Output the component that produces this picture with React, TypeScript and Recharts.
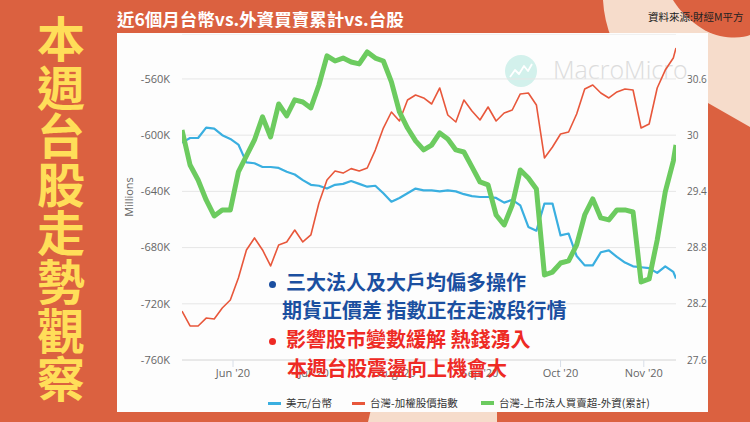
import React from "react"
import { LineChart, Line, XAxis, YAxis, CartesianGrid, Legend } from "recharts"

// day offsets counted from 1 May 2020 (one reading every ~3 days)
const days = [
  12, 15, 18, 21, 24, 27, 30, 33, 36, 39, 42, 45, 48, 51, 54, 57, 60, 63, 66, 69, 72,
  75, 78, 81, 84, 87, 90, 93, 96, 99, 102, 105, 108, 111, 114, 117, 120, 123, 126,
  129, 132, 135, 138, 141, 144, 147, 150, 153, 156, 159, 162, 165, 168, 171, 174,
  177, 180, 183, 186, 189, 192, 195, 196,
]

// 美元/台幣
const usdTwd = [
  29.92, 29.97, 29.97, 30.08, 30.07, 30.0, 29.96, 29.9, 29.71, 29.7, 29.66, 29.66,
  29.65, 29.61, 29.58, 29.52, 29.47, 29.46, 29.43, 29.47, 29.48, 29.51, 29.48, 29.45,
  29.46, 29.38, 29.29, 29.33, 29.38, 29.43, 29.41, 29.41, 29.4, 29.41, 29.4, 29.37,
  29.35, 29.34, 29.34, 29.33, 29.28, 29.31, 29.25, 29.02, 28.98, 29.27, 29.27, 28.93,
  28.95, 28.71, 28.61, 28.61, 28.75, 28.77, 28.7, 28.64, 28.6, 28.59, 28.58, 28.53,
  28.6, 28.54, 28.47,
]

// 台灣-加權股價指數
const taiex = [
  10870, 10736, 10736, 10807, 10799, 10897, 10969, 11167, 11419, 11527, 11419, 11275,
  11464, 11491, 11598, 11491, 11554, 11841, 12048, 12129, 12110, 12150, 12129, 12156,
  12317, 12515, 12659, 12578, 12767, 12812, 12785, 12731, 12875, 12632, 12569, 12767,
  12668, 12587, 12704, 12578, 12650, 12677, 12821, 12830, 12722, 12246, 12344, 12461,
  12479, 12641, 12866, 12902, 12830, 12785, 12839, 12866, 12857, 12515, 12551, 12875,
  13036, 13144, 13234,
]

// 台灣-上市法人買賣超-外資(累計), millions (K)
const foreignCum = [
  -596.3, -621.2, -631.9, -646.1, -657.5, -653.2, -653.2, -626.2, -614.8, -603.4,
  -587.0, -601.3, -577.8, -586.3, -574.9, -576.4, -580.6, -564.3, -543.6, -547.2,
  -545.1, -547.9, -549.3, -540.8, -545.1, -547.2, -562.1, -583.5, -594.9, -604.1,
  -610.5, -607.0, -598.4, -602.7, -610.5, -612.0, -622.6, -633.3, -635.4, -656.8,
  -663.9, -649.7, -624.8, -630.5, -638.3, -699.5, -697.4, -691.0, -689.5, -678.1,
  -656.8, -645.4, -658.9, -660.3, -653.2, -653.2, -654.7, -704.5, -702.3, -674.6,
  -640.4, -618.4, -607.0,
]

const monthTicks = [31, 61, 92, 123, 153, 184]
const monthLabels = ["Jun '20", "Jul '20", "Aug '20", "Sep '20", "Oct '20", "Nov '20"]
const leftTicks = [-760, -720, -680, -640, -600, -560]
const rightTicks = [27.6, 28.2, 28.8, 29.4, 30, 30.6]

const seriesNames = ["美元/台幣", "台灣-加權股價指數", "台灣-上市法人買賣超-外資(累計)"]
const seriesColors = ["#3AAFE0", "#E8573B", "#6CCB5F"]

const data = days.map((t, i) => ({
  t,
  usd: usdTwd[i],
  taiex: taiex[i],
  foreign: foreignCum[i],
}))

const CJK = '"Noto Sans CJK TC", "Noto Sans", sans-serif'
const AXIS_FONT = '"Open Sans", "Noto Sans CJK TC", sans-serif'
const ORANGE = "#DB6140"
const PEACH = "#F6DCCB"

const legendLefts = [151, 235, 364]

function renderLegend() {
  return (
    <div style={{ position: "relative", width: 591, height: 14, fontFamily: CJK, fontSize: 10.5, color: "#333" }}>
      {seriesNames.map((name, i) => (
        <div key={name} style={{ position: "absolute", left: legendLefts[i], top: 0, height: 14, whiteSpace: "nowrap" }}>
          <div
            style={{
              position: "absolute",
              left: 0,
              top: i === 2 ? 5 : 6,
              width: 13,
              height: i === 2 ? 4 : 3,
              background: seriesColors[i],
            }}
          />
          <span style={{ position: "absolute", left: 18, top: 0, lineHeight: "14px" }}>{name}</span>
        </div>
      ))}
    </div>
  )
}

const titleChars = "本週台股走勢觀察".split("")

export default function App() {
  return (
    <div
      style={{
        position: "fixed",
        left: 0,
        top: 0,
        width: 750,
        height: 422,
        overflow: "hidden",
        background: ORANGE,
        fontFamily: CJK,
      }}
    >
      {/* background shapes */}
      <svg width={750} height={422} style={{ position: "absolute", left: 0, top: 0 }}>
        <path d="M603,0 L750,0 L750,127 L708,103 L708,40 L612,40 Q604,20 603,0 Z" fill={PEACH} />
        <path d="M673,0 C680,12 700,32 720,36 C735,39 745,37 750,35 L750,0 Z" fill={ORANGE} />
        <path d="M372,405 L497,405 L497,422 L368,422 Z" fill={PEACH} />
      </svg>

      {/* vertical heading */}
      <div style={{ position: "absolute", left: 37, top: 12, width: 46 }}>
        {titleChars.map((c, i) => (
          <div
            key={i}
            style={{
              height: 48.6,
              lineHeight: "48.6px",
              fontSize: 48,
              fontWeight: 700,
              color: "#FFDE59",
              textAlign: "center",
            }}
          >
            {c}
          </div>
        ))}
      </div>

      <div
        style={{
          position: "absolute",
          left: 117,
          top: 10,
          fontSize: 17.5,
          lineHeight: "17.5px",
          fontWeight: 700,
          color: "#fff",
          whiteSpace: "nowrap",
        }}
      >
        近6個月台幣vs.外資買賣累計vs.台股
      </div>
      <div
        style={{
          position: "absolute",
          left: 648,
          top: 12,
          fontSize: 10.5,
          lineHeight: "10.5px",
          color: "#222",
          whiteSpace: "nowrap",
        }}
      >
        資料來源:財經M平方
      </div>

      {/* chart panel */}
      <div style={{ position: "absolute", left: 117, top: 33, width: 591, height: 379, background: "#FDFDFD" }} />

      {/* watermark */}
      <svg width={750} height={422} style={{ position: "absolute", left: 0, top: 0 }}>
        <circle cx={521} cy={71} r={16} fill="#D3F1EC" />
        <polyline
          points="510,77 515,70 519,74 524,66 528,71 532,64"
          fill="none"
          stroke="#fff"
          strokeWidth={1.8}
          strokeLinejoin="round"
        />
        <text x={553} y={79} fontFamily={AXIS_FONT} fontWeight={300} fontSize={25} fill="#DCDCDC">
          MacroMicro
        </text>
      </svg>

      <div style={{ position: "absolute", left: 117, top: 34 }}>
        <LineChart width={591} height={378} data={data} margin={{ top: 0, right: 0, bottom: 22, left: 0 }}>
          <CartesianGrid yAxisId="left" vertical={false} stroke="#E6E6E6" />
          <XAxis
            dataKey="t"
            type="number"
            domain={[12, 196]}
            allowDataOverflow
            ticks={monthTicks}
            tickFormatter={(v: number) => monthLabels[monthTicks.indexOf(v)] || ""}
            height={30}
            tickSize={7}
            tick={{ fill: "#666", fontSize: 11, fontFamily: AXIS_FONT }}
            tickLine={{ stroke: "#D8DEE8" }}
            axisLine={{ stroke: "#E0E0E0" }}
          />
          <YAxis
            yAxisId="left"
            width={65}
            domain={[-760, -528]}
            allowDataOverflow
            ticks={leftTicks}
            tickFormatter={(v: number) => `${v}K`}
            tickLine={false}
            axisLine={false}
            tickMargin={6}
            tick={{ fill: "#666", fontSize: 11, fontFamily: AXIS_FONT }}
            label={{
              value: "Millions",
              angle: -90,
              position: "insideLeft",
              offset: 12,
              style: { textAnchor: "middle", fill: "#666", fontSize: 11, fontFamily: AXIS_FONT },
            }}
          />
          <YAxis
            yAxisId="usd"
            orientation="right"
            width={32}
            domain={[27.6, 31.08]}
            allowDataOverflow
            ticks={rightTicks}
            tickLine={false}
            axisLine={false}
            tickMargin={5}
            tick={{ fill: "#666", fontSize: 10, fontFamily: AXIS_FONT }}
          />
          <YAxis yAxisId="taiex" hide domain={[10430, 13360]} allowDataOverflow />
          <Legend
            verticalAlign="middle"
            align="center"
            layout="horizontal"
            content={renderLegend}
            wrapperStyle={{ top: 362, left: 0, width: 591, height: 14 }}
          />
          <Line
            yAxisId="usd"
            dataKey="usd"
            name={seriesNames[0]}
            stroke={seriesColors[0]}
            strokeWidth={2.2}
            dot={false}
            strokeLinejoin="round"
            isAnimationActive={false}
          />
          <Line
            yAxisId="taiex"
            dataKey="taiex"
            name={seriesNames[1]}
            stroke={seriesColors[1]}
            strokeWidth={1.6}
            dot={false}
            strokeLinejoin="round"
            isAnimationActive={false}
          />
          <Line
            yAxisId="left"
            dataKey="foreign"
            name={seriesNames[2]}
            stroke={seriesColors[2]}
            strokeWidth={5}
            dot={false}
            strokeLinejoin="round"
            isAnimationActive={false}
          />
        </LineChart>
      </div>

      {/* annotation */}
      <div style={{ position: "absolute", left: 268.5, top: 280.5, width: 7, height: 7, borderRadius: 4, background: "#1B4FA0" }} />
      <div style={{ position: "absolute", left: 286, top: 272, fontSize: 20, lineHeight: "20px", fontWeight: 700, color: "#1B4FA0", whiteSpace: "nowrap" }}>
        三大法人及大戶均偏多操作
      </div>
      <div style={{ position: "absolute", left: 282, top: 300, fontSize: 20, lineHeight: "20px", fontWeight: 700, color: "#1B4FA0", whiteSpace: "nowrap" }}>
        期貨正價差 指數正在走波段行情
      </div>
      <div style={{ position: "absolute", left: 268.5, top: 337.5, width: 7, height: 7, borderRadius: 4, background: "#EE2A24" }} />
      <div style={{ position: "absolute", left: 286, top: 329, fontSize: 20, lineHeight: "20px", fontWeight: 700, color: "#EE2A24", whiteSpace: "nowrap" }}>
        影響股市變數緩解 熱錢湧入
      </div>
      <div style={{ position: "absolute", left: 287, top: 358, fontSize: 20, lineHeight: "20px", fontWeight: 700, color: "#EE2A24", whiteSpace: "nowrap" }}>
        本週台股震盪向上機會大
      </div>
    </div>
  )
}
